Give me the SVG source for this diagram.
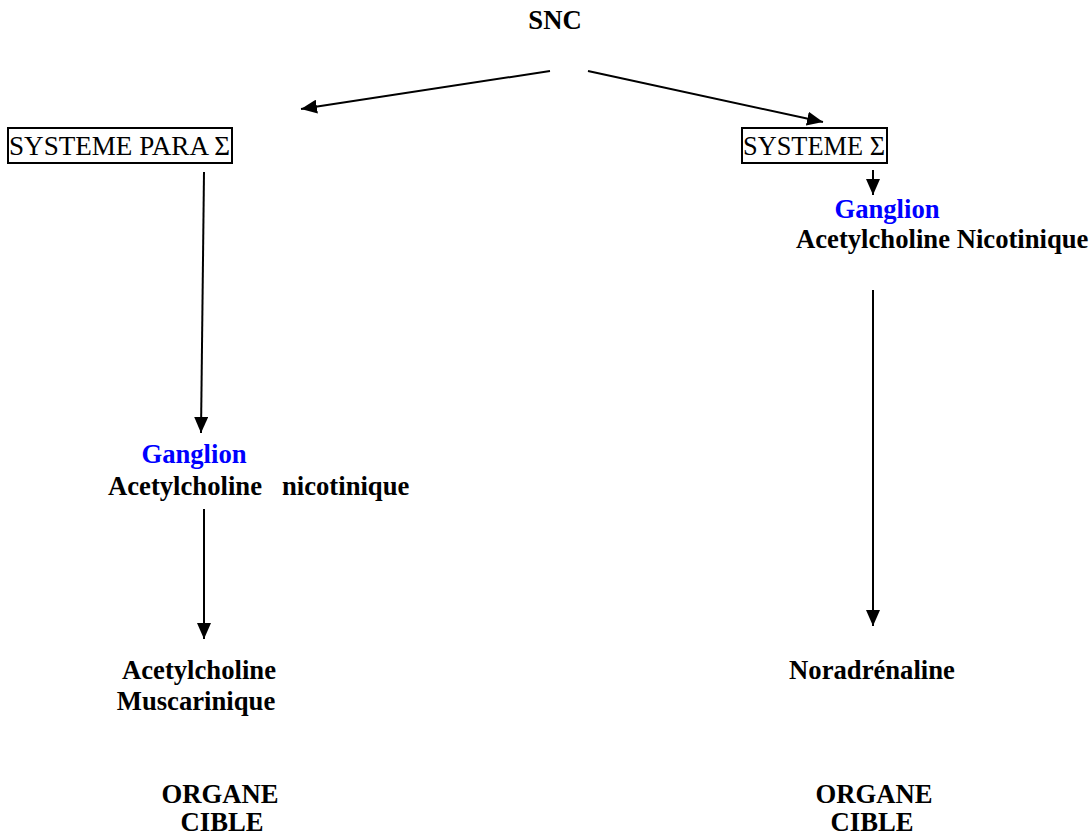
<svg xmlns="http://www.w3.org/2000/svg" width="1090" height="832" viewBox="0 0 1090 832">
<style>
text{font-family:"Liberation Serif","Times New Roman",serif;font-size:26.67px;fill:#000}
.b{font-weight:bold}
.blue{fill:#0000ff}
.box{fill:none;stroke:#000;stroke-width:2}
.c{stroke:#000;stroke-width:2;fill:none;marker-end:url(#ah)}
</style>
<defs>
<marker id="ah" markerUnits="userSpaceOnUse" markerWidth="16" markerHeight="14" refX="16" refY="7" orient="auto">
<path d="M0,0 L16,7 L0,14 Z" fill="#000"/>
</marker>
</defs>
<rect width="1090" height="832" fill="#fff"/>
<g id="snc"><text class="b" x="555" y="29" text-anchor="middle">SNC</text></g>
<g id="para">
<rect class="box" x="8" y="128" width="224" height="35"/>
<text x="9" y="155" textLength="221" lengthAdjust="spacingAndGlyphs">SYSTEME PARA Σ</text>
</g>
<g id="sympa">
<rect class="box" x="742" y="128" width="145" height="35"/>
<text x="743" y="155" textLength="142" lengthAdjust="spacingAndGlyphs">SYSTEME Σ</text>
</g>
<g id="ganglion-r">
<text class="b blue" x="887" y="218" text-anchor="middle">Ganglion</text>
<text class="b" x="796" y="248">Acetylcholine Nicotinique</text>
</g>
<g id="ganglion-l">
<text class="b blue" x="194" y="463" text-anchor="middle">Ganglion</text>
<text class="b" x="108" y="495" xml:space="preserve">Acetylcholine   nicotinique</text>
</g>
<g id="muscarinique">
<text class="b" x="199" y="679" text-anchor="middle">Acetylcholine</text>
<text class="b" x="196" y="710" text-anchor="middle">Muscarinique</text>
</g>
<g id="nora"><text class="b" x="872" y="679" text-anchor="middle">Noradrénaline</text></g>
<g id="organe-l">
<text class="b" x="220" y="803" text-anchor="middle">ORGANE</text>
<text class="b" x="222" y="831" text-anchor="middle">CIBLE</text>
</g>
<g id="organe-r">
<text class="b" x="874" y="803" text-anchor="middle">ORGANE</text>
<text class="b" x="872" y="831" text-anchor="middle">CIBLE</text>
</g>
<g id="connectors">
<line class="c" x1="550" y1="71" x2="301" y2="109"/>
<line class="c" x1="588" y1="71" x2="823" y2="122"/>
<line class="c" x1="204" y1="172" x2="201" y2="433"/>
<line class="c" x1="873" y1="170" x2="873" y2="195"/>
<line class="c" x1="204" y1="509" x2="204" y2="639"/>
<line class="c" x1="873" y1="290" x2="873" y2="626"/>
</g>
</svg>
